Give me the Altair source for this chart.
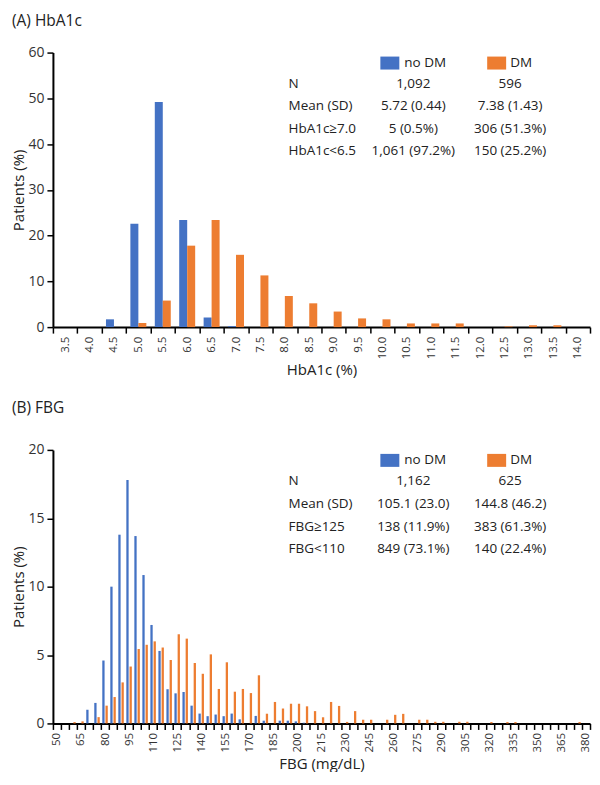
import altair as alt
import pandas as pd

FONT = "Open Sans"
BLUE = "#4472C4"
ORANGE = "#ED7D31"
TXT = "#222222"

# ---------------- Panel A: HbA1c ----------------
hba1c_bins = ["3.5", "4.0", "4.5", "5.0", "5.5", "6.0", "6.5", "7.0", "7.5", "8.0", "8.5",
              "9.0", "9.5", "10.0", "10.5", "11.0", "11.5", "12.0", "12.5", "13.0", "13.5", "14.0"]
hba1c_nodm = [0, 0, 1.7, 22.6, 49.2, 23.4, 2.1, 0.2, 0, 0, 0,
              0, 0, 0, 0, 0, 0, 0, 0, 0, 0, 0]
hba1c_dm = [0, 0, 0, 0.9, 5.8, 17.8, 23.4, 15.8, 11.3, 6.8, 5.2,
            3.4, 1.9, 1.7, 0.8, 0.8, 0.8, 0, 0.15, 0.4, 0.4, 0]
hba1c_rows = ["N", "Mean (SD)", "HbA1c≥7.0", "HbA1c<6.5"]
hba1c_col_nodm = ["1,092", "5.72 (0.44)", "5 (0.5%)", "1,061 (97.2%)"]
hba1c_col_dm = ["596", "7.38 (1.43)", "306 (51.3%)", "150 (25.2%)"]

# ---------------- Panel B: FBG ----------------
fbg_bins = [50, 55, 60, 65, 70, 75, 80, 85, 90, 95, 100, 105, 110, 115, 120, 125, 130, 135,
            140, 145, 150, 155, 160, 165, 170, 175, 180, 185, 190, 195, 200, 205, 210, 215,
            220, 225, 230, 235, 240, 245, 250, 255, 260, 265, 270, 275, 280, 285, 290, 295,
            300, 305, 310, 315, 320, 325, 330, 335, 340, 345, 350, 355, 360, 365, 370, 375, 380]
fbg_nodm = [0, 0, 0, 0, 1.0, 1.5, 4.6, 10.0, 13.8, 17.8, 13.7, 10.85, 7.2, 5.3, 2.5, 2.2, 2.3, 1.3,
            0.72, 0.53, 0.65, 0.53, 0.72, 0.3, 0, 0.55, 0.2, 0, 0.2, 0.2, 0.15, 0.05, 0, 0,
            0, 0, 0, 0, 0, 0, 0, 0, 0, 0, 0, 0, 0, 0, 0, 0,
            0, 0, 0, 0, 0, 0, 0, 0, 0, 0, 0, 0, 0, 0, 0, 0, 0]
fbg_dm = [0, 0, 0.1, 0.15, 0, 0.46, 1.3, 1.93, 3.0, 4.16, 5.44, 5.75, 6.0, 5.55, 4.64, 6.52, 6.2, 4.42,
          3.63, 5.05, 2.52, 4.47, 2.32, 2.52, 2.22, 3.52, 0.71, 1.57, 1.09, 1.44, 1.44, 1.25, 0.9, 0.45,
          1.57, 1.28, 0.11, 0.9, 0.27, 0.27, 0, 0.27, 0.63, 0.7, 0, 0.27, 0.27, 0.12, 0.12, 0,
          0.12, 0.12, 0, 0, 0.1, 0, 0.1, 0.1, 0, 0, 0, 0, 0, 0, 0, 0.1, 0]
fbg_rows = ["N", "Mean (SD)", "FBG≥125", "FBG<110"]
fbg_col_nodm = ["1,162", "105.1 (23.0)", "138 (11.9%)", "849 (73.1%)"]
fbg_col_dm = ["625", "144.8 (46.2)", "383 (61.3%)", "140 (22.4%)"]

ROW_Y = [31, 54, 77, 99]
LEG_Y = 10


def panel(bins, nodm, dm, bin_type, xtitle, ymax, ystep, width, height, title, title_offset,
          rows, col1, col2, bar_w, bar_off, label_expr=None):
    df = pd.DataFrame({"bin": list(bins), "nodm": list(nodm), "dm": list(dm)})
    xaxis_kw = dict(title=xtitle, labelAngle=-90, tickBand="extent", labelOverlap=False,
                    labelFontSize=11.5, labelPadding=3, tickSize=6, titlePadding=4)
    if label_expr:
        xaxis_kw["labelExpr"] = label_expr
    xenc = alt.X(f"bin:{bin_type}", sort=list(bins),
                 scale=alt.Scale(paddingInner=0, paddingOuter=0),
                 axis=alt.Axis(**xaxis_kw))
    yaxis = alt.Axis(title="Patients (%)", values=list(range(0, ymax + 1, ystep)),
                     tickSize=6, labelPadding=3, labelFontSize=14, titlePadding=1)
    yscale = alt.Scale(domain=[0, ymax], nice=False)
    base = alt.Chart(df)
    blue = base.mark_bar(color=BLUE, width=bar_w, xOffset=-bar_off).encode(
        x=xenc, y=alt.Y("nodm:Q", scale=yscale, axis=yaxis, title="Patients (%)"))
    orange = base.mark_bar(color=ORANGE, width=bar_w, xOffset=bar_off).encode(
        x=xenc, y=alt.Y("dm:Q", scale=yscale, axis=yaxis, title="Patients (%)"))

    one = pd.DataFrame({"k": [0]})
    tb = alt.Chart(one)
    layers = [blue, orange]
    txt_kw = dict(font=FONT, fontSize=13.5, color=TXT, baseline="middle")
    for i in range(4):
        layers.append(tb.mark_text(align="left", text=rows[i], **txt_kw).encode(
            x=alt.value(236), y=alt.value(ROW_Y[i])))
        layers.append(tb.mark_text(align="center", text=col1[i], **txt_kw).encode(
            x=alt.value(361), y=alt.value(ROW_Y[i])))
        layers.append(tb.mark_text(align="center", text=col2[i], **txt_kw).encode(
            x=alt.value(458), y=alt.value(ROW_Y[i])))
    layers.append(tb.mark_rect(color=BLUE).encode(
        x=alt.value(328), x2=alt.value(347), y=alt.value(LEG_Y - 6), y2=alt.value(LEG_Y + 7)))
    layers.append(tb.mark_rect(color=ORANGE).encode(
        x=alt.value(435), x2=alt.value(454), y=alt.value(LEG_Y - 6), y2=alt.value(LEG_Y + 7)))
    layers.append(tb.mark_text(align="left", text="no DM", **txt_kw).encode(
        x=alt.value(352), y=alt.value(LEG_Y)))
    layers.append(tb.mark_text(align="left", text="DM", **txt_kw).encode(
        x=alt.value(458), y=alt.value(LEG_Y)))

    return alt.layer(*layers).properties(
        width=width, height=height,
        title=alt.TitleParams(title, anchor="start", frame="bounds", fontSize=15.5, fontWeight="normal",
                              font=FONT, color=TXT, offset=title_offset),
    )


pA = panel(hba1c_bins, hba1c_nodm, hba1c_dm, "O", "HbA1c (%)", 60, 10, 538, 275, "(A) HbA1c", 16,
           hba1c_rows, hba1c_col_nodm, hba1c_col_dm, bar_w=8, bar_off=4)
pB = panel(fbg_bins, fbg_nodm, fbg_dm, "O", "FBG (mg/dL)", 20, 5, 538, 274, "(B) FBG", 26,
           fbg_rows, fbg_col_nodm, fbg_col_dm, bar_w=2.3, bar_off=1.6,
           label_expr="datum.value % 15 == 5 ? datum.label : ''")

chart = alt.vconcat(pA, pB, spacing=23).properties(
    padding={"left": 3, "top": 5, "right": 0, "bottom": 0}
).configure_view(stroke=None).configure_axis(
    grid=False, domainColor="black", domainWidth=2, tickColor="black", tickWidth=1.5,
    labelFont=FONT, titleFont=FONT, labelColor="#333333", titleColor=TXT,
    titleFontSize=15, titleFontWeight="normal",
)

chart.save("out.html", embed_options={"renderer": "svg", "actions": False})
